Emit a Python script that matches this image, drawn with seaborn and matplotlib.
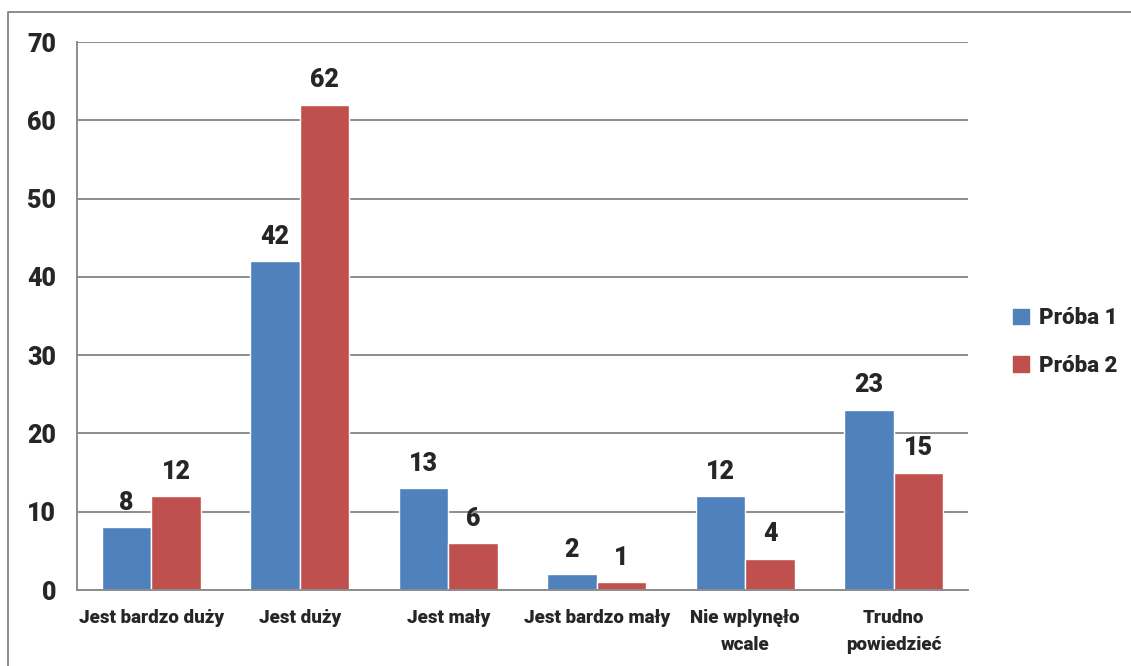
import pandas as pd
import matplotlib.pyplot as plt
import seaborn as sns
from matplotlib.lines import Line2D

# answer categories and the two samples
categories = ["Jest bardzo duży", "Jest duży", "Jest mały", "Jest bardzo mały",
              "Nie wplynęło\nwcale", "Trudno\npowiedzieć"]
proba1 = [8, 42, 13, 2, 12, 23]
proba2 = [12, 62, 6, 1, 4, 15]
series = ["Próba 1", "Próba 2"]
colors = ["#4F81BD", "#C0504D"]
yticks = [0, 10, 20, 30, 40, 50, 60, 70]

df = pd.DataFrame({
    "kategoria": categories * 2,
    "wartosc": proba1 + proba2,
    "seria": [series[0]] * len(categories) + [series[1]] * len(categories),
})

sns.set_style("white")
plt.rcParams["font.family"] = ["Roboto", "DejaVu Sans"]
plt.rcParams["font.weight"] = "heavy"

grid_col = "#8c8c8c"
wt = "heavy"

fig = plt.figure(figsize=(11.31, 6.66), dpi=100)
ax = fig.add_axes([77 / 1131, 1 - 590 / 666, (968 - 77) / 1131, (590 - 42) / 666])

sns.barplot(data=df, x="kategoria", y="wartosc", hue="seria", palette=colors,
            width=0.667, saturation=1, gap=0, ax=ax, legend=False)

# value labels above the bars
for cont in ax.containers:
    ax.bar_label(cont, fmt="{:.0f}", padding=9, fontsize=18, fontweight=wt)

ax.set_ylim(0, 70)
ax.set_xlim(-0.5, len(categories) - 0.5)
ax.set_yticks(yticks)
ax.set_xlabel("")
ax.set_ylabel("")
ax.yaxis.grid(True, color=grid_col, linewidth=1.4)
ax.set_axisbelow(True)

for s in ["top", "right"]:
    ax.spines[s].set_visible(False)
for s in ["left", "bottom"]:
    ax.spines[s].set_color(grid_col)
    ax.spines[s].set_linewidth(1.4)

ax.tick_params(axis="y", length=6, width=1.4, color=grid_col, labelsize=18, pad=9, direction="out")
ax.set_xticks(range(len(categories)))
ax.set_xticklabels(categories, fontsize=13.5, fontweight=wt, linespacing=1.6)
ax.tick_params(axis="x", which="major", length=0, pad=14)
ax.set_xticks([i - 0.5 for i in range(len(categories) + 1)], minor=True)
ax.tick_params(axis="x", which="minor", length=6, width=1.4, color=grid_col, direction="out")
for lab in ax.get_yticklabels():
    lab.set_fontweight(wt)

handles = [plt.Rectangle((0, 0), 1, 1, color=c) for c in colors]
fig.legend(handles, series, loc="center left", bbox_to_anchor=(993 / 1131, 1 - 342 / 666),
           frameon=False, handlelength=0.7, handleheight=0.7,
           handletextpad=0.45, labelspacing=1.15, prop={"weight": wt, "size": 16})

# outer chart border (only top and left visible in the crop)
fig.add_artist(Line2D([8 / 1131, 8 / 1131, 1], [0, 1 - 12 / 666, 1 - 12 / 666],
                      transform=fig.transFigure, color=grid_col, linewidth=1.4))

fig.savefig("out.png", dpi=100)
